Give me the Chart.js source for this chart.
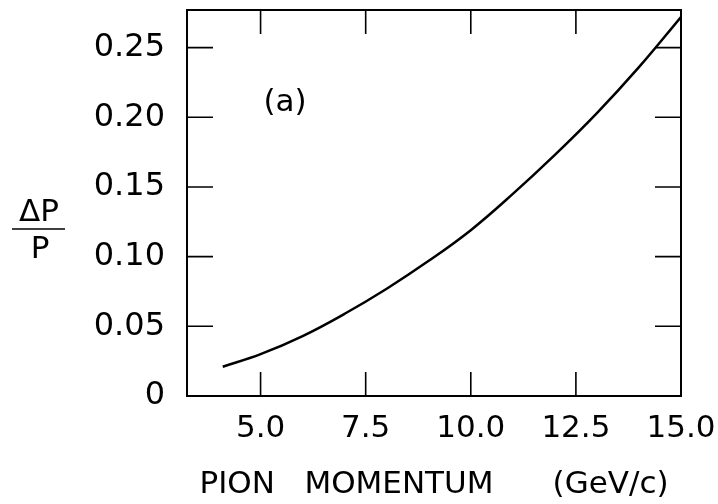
<!DOCTYPE html>
<html>
<head>
<meta charset="utf-8">
<script src="https://cdn.jsdelivr.net/npm/chart.js@4"></script>
<style>
  html, body { margin: 0; padding: 0; background: #fff; }
  #wrap { width: 718px; height: 504px; position: relative; }
</style>
</head>
<body>
<div id="wrap"><canvas id="c" width="718" height="504"></canvas></div>
<script>
// ---- data ----
const momentum = [4.1, 5.0, 6.0, 7.0, 8.0, 9.0, 10.0, 11.0, 12.0, 13.0, 14.0, 15.0];
const resolution = [0.021, 0.030, 0.043, 0.059, 0.077, 0.097, 0.119, 0.145, 0.173, 0.203, 0.236, 0.272];
const xTickValues = [5.0, 7.5, 10.0, 12.5, 15.0];
const xTickLabels = ['5.0', '7.5', '10.0', '12.5', '15.0'];
const yTickValues = [0, 0.05, 0.10, 0.15, 0.20, 0.25];
const yTickLabels = ['0', '0.05', '0.10', '0.15', '0.20', '0.25'];
const xTitle = 'PION   MOMENTUM      (GeV/c)';
const panelLabel = '(a)';

const FONT = "'DejaVu Sans', sans-serif";

const framePlugin = {
  id: 'frame',
  afterDatasetsDraw(chart) {
    const { ctx, chartArea: a, scales } = chart;
    const xs = scales.x, ys = scales.y;
    ctx.save();
    ctx.strokeStyle = '#000';
    ctx.lineWidth = 2;
    ctx.strokeRect(a.left, a.top, a.right - a.left, a.bottom - a.top);
    ctx.lineWidth = 1.6;
    const tl = 24;
    ctx.beginPath();
    xTickValues.forEach(v => {
      const px = xs.getPixelForValue(v);
      if (px < a.right - 2) {
        ctx.moveTo(px, a.bottom); ctx.lineTo(px, a.bottom - tl);
        ctx.moveTo(px, a.top); ctx.lineTo(px, a.top + tl);
      }
    });
    yTickValues.forEach(v => {
      const py = ys.getPixelForValue(v);
      if (py < a.bottom - 2) {
        ctx.moveTo(a.left, py); ctx.lineTo(a.left + 26, py);
        ctx.moveTo(a.right, py); ctx.lineTo(a.right - 26, py);
      }
    });
    ctx.stroke();

    // panel label
    ctx.fillStyle = '#000';
    ctx.font = '31px ' + FONT;
    ctx.textAlign = 'center';
    ctx.textBaseline = 'middle';
    ctx.fillText(panelLabel, 285, 103);

    // y axis title as fraction ΔP / P
    ctx.font = '31px ' + FONT;
    ctx.textBaseline = 'alphabetic';
    ctx.fillText('\u0394P', 39, 221);
    ctx.lineWidth = 1.6;
    ctx.beginPath();
    ctx.moveTo(12, 229); ctx.lineTo(65, 229);
    ctx.stroke();
    ctx.fillText('P', 40, 258);
    ctx.restore();
  }
};

new Chart(document.getElementById('c'), {
  type: 'line',
  data: {
    datasets: [{
      data: momentum.map((x, i) => ({ x, y: resolution[i] })),
      borderColor: '#000',
      borderWidth: 2.5,
      pointRadius: 0,
      fill: false,
      tension: 0.4
    }]
  },
  options: {
    responsive: false,
    animation: false,
    devicePixelRatio: 1,
    layout: { padding: { left: 0, right: 37, top: 10, bottom: 0 } },
    plugins: { legend: { display: false }, tooltip: { enabled: false } },
    scales: {
      x: {
        type: 'linear',
        min: 3.25,
        max: 15,
        grid: { display: false, drawTicks: false },
        border: { display: false },
        afterBuildTicks(s) { s.ticks = xTickValues.map(v => ({ value: v })); },
        afterFit(s) { s.height = 108; s.paddingLeft = 0; s.paddingRight = 0; },
        ticks: {
          color: '#000',
          font: { family: FONT, size: 31 },
          padding: 14,
          maxRotation: 0,
          autoSkip: false,
          callback: (v) => xTickLabels[xTickValues.indexOf(v)]
        },
        title: {
          display: true,
          text: xTitle,
          color: '#000',
          font: { family: FONT, size: 31 },
          padding: { top: 3, bottom: 0 }
        }
      },
      y: {
        type: 'linear',
        min: 0,
        max: 0.277,
        grid: { display: false, drawTicks: false },
        border: { display: false },
        afterBuildTicks(s) { s.ticks = yTickValues.map(v => ({ value: v })); },
        afterFit(s) { s.width = 187; s.paddingTop = 0; s.paddingBottom = 0; },
        ticks: {
          color: '#000',
          font: { family: FONT, size: 32 },
          padding: 22,
          autoSkip: false,
          callback: (v) => {
            const i = yTickValues.findIndex(t => Math.abs(t - v) < 1e-9);
            return i >= 0 ? yTickLabels[i] : '';
          }
        }
      }
    }
  },
  plugins: [framePlugin]
});
</script>
</body>
</html>
